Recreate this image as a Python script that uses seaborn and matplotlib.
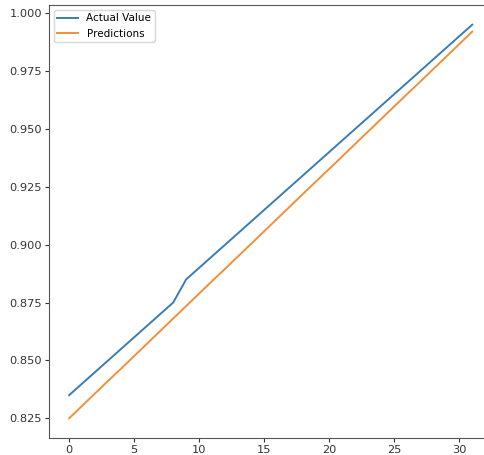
import matplotlib
matplotlib.use("Agg")
import matplotlib.pyplot as plt
import seaborn as sns
import pandas as pd

x_index = list(range(32))
actual_values = [0.835, 0.840, 0.845, 0.850, 0.855, 0.860, 0.865, 0.870, 0.875,
                 0.885, 0.890, 0.895, 0.900, 0.905, 0.910, 0.915, 0.920, 0.925,
                 0.930, 0.935, 0.940, 0.945, 0.950, 0.955, 0.960, 0.965, 0.970,
                 0.975, 0.980, 0.985, 0.990, 0.995]
predictions = [0.8250, 0.8304, 0.8358, 0.8412, 0.8465, 0.8519, 0.8573, 0.8627,
               0.8681, 0.8735, 0.8789, 0.8843, 0.8896, 0.8950, 0.9004, 0.9058,
               0.9112, 0.9166, 0.9220, 0.9274, 0.9327, 0.9381, 0.9435, 0.9489,
               0.9543, 0.9597, 0.9651, 0.9704, 0.9758, 0.9812, 0.9866, 0.9920]

df = pd.DataFrame({"x": x_index, "Actual Value": actual_values, "Predictions": predictions})

fig = plt.figure(figsize=(4.84, 4.55), dpi=100)
ax = fig.add_axes([49 / 484, 17 / 455, 443.4 / 484, 433 / 455])
sns.lineplot(data=df, x="x", y="Actual Value", ax=ax, color="#3a7db5", label="Actual Value", linewidth=1.4)
sns.lineplot(data=df, x="x", y="Predictions", ax=ax, color="#f0903a", label="Predictions", linewidth=1.4)
ax.set_xlabel("")
ax.set_ylabel("")
ax.set_xticks([0, 5, 10, 15, 20, 25, 30])
ax.set_yticks([0.825, 0.850, 0.875, 0.900, 0.925, 0.950, 0.975, 1.000])
ax.set_yticklabels(["0.825", "0.850", "0.875", "0.900", "0.925", "0.950", "0.975", "1.000"])
ax.tick_params(labelsize=8.2, colors="#333333", length=3, pad=2)
for s in ax.spines.values():
    s.set_color("#555555")
ax.legend(loc="upper left", fontsize=7.5, borderpad=0.3, handlelength=2)
fig.savefig("out.png", dpi=100)
